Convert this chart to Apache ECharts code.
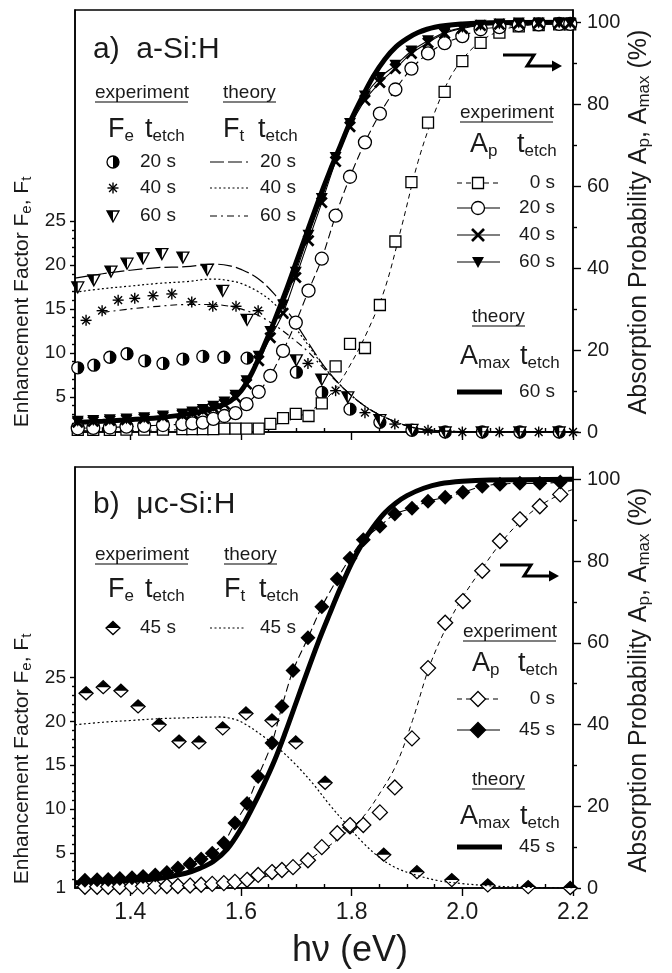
<!DOCTYPE html>
<html>
<head>
<meta charset="utf-8">
<title>Enhancement factor and absorption probability</title>
<script src="https://cdn.jsdelivr.net/npm/echarts@6.0.0/dist/echarts.min.js"></script>
<style>
  html, body { margin: 0; padding: 0; background: #fff; }
  #chart { width: 672px; height: 973px; }
</style>
</head>
<body>
<div id="chart"></div>
<script>
// tick positions
const xMajor = [1.4, 1.6, 1.8, 2.0, 2.2]
const xMinor = [1.35, 1.45, 1.5, 1.55, 1.65, 1.7, 1.75, 1.85, 1.9, 1.95, 2.05, 2.1, 2.15]
const fMajorA = [5, 10, 15, 20, 25]
const fMajorB = [1, 5, 10, 15, 20, 25]
const fMinor = [2, 3, 4, 6, 7, 8, 9, 11, 12, 13, 14, 16, 17, 18, 19, 21, 22, 23, 24]
const aMajor = [0, 20, 40, 60, 80, 100]
const aMinor = [10, 30, 50, 70, 90]

// a) a-Si:H  -- absorption probability Ap (%), shared photon energy grid (eV)
const eA = [1.305, 1.333, 1.363, 1.393, 1.425, 1.459, 1.494, 1.512, 1.531, 1.550, 1.570, 1.590, 1.610, 1.632, 1.653, 1.676, 1.699,
  1.722, 1.746, 1.771, 1.797, 1.824, 1.851, 1.879, 1.908, 1.938, 1.968, 2.000, 2.033, 2.067, 2.102, 2.138, 2.175, 2.195]
const apA0 = [0.5, 0.5, 0.5, 0.6, 0.6, 0.6, 0.7, 0.7, 0.7, 0.7, 0.8, 0.8, 0.8, 0.8, 2.0, 3.4, 4.4,
  3.9, 7.0, 16, 21.5, 20.5, 31, 46.5, 61, 75.5, 83, 90.5, 95, 97.5, 99, 99.3, 99.5, 99.5]
const apA20 = [0.9, 1.0, 1.1, 1.3, 1.5, 1.7, 1.9, 2.1, 2.3, 3.2, 3.9, 4.6, 6.8, 9.8, 13.7, 19.8, 26.7,
  34.5, 42.3, 52.8, 62.3, 70.7, 77.7, 83.6, 88.7, 92.4, 94.9, 96.6, 98.3, 98.8, 99.3, 99.5, 99.6, 99.6]
const apA40 = [2.4, 2.6, 2.8, 3.0, 3.3, 3.7, 4.2, 4.6, 5.2, 5.9, 6.8, 8.5, 11.7, 17.4, 23, 29, 37.7,
  46.7, 56, 66, 74.5, 81, 85.3, 88.7, 92.4, 95, 97.3, 98.5, 99.2, 99.5, 99.7, 99.8, 99.8, 99.8]
const apA60 = [2.6, 2.8, 3.0, 3.2, 3.5, 3.9, 4.4, 4.9, 5.5, 6.3, 7.3, 9.0, 12.5, 18.5, 24.5, 31, 39,
  48, 57, 67, 75.3, 82, 86.5, 89.5, 93, 95.5, 97.5, 98.7, 99.3, 99.6, 99.8, 99.8, 99.8, 99.8]
// guide through the 0 s squares
const fitA0x = [1.30, 1.60, 1.65, 1.70, 1.74, 1.77, 1.80, 1.83, 1.86, 1.89, 1.92, 1.95, 1.98, 2.01, 2.04, 2.07, 2.10, 2.15, 2.20]
const fitA0 = [0.3, 0.8, 1.5, 3.5, 6.5, 10.5, 17, 25, 35, 50, 66, 78, 87, 92.5, 96, 98, 99, 99.6, 99.8]
// theory Amax, 60 s
const thAx = [1.30, 1.35, 1.40, 1.45, 1.50, 1.55, 1.58, 1.60, 1.62, 1.64, 1.66, 1.68, 1.70, 1.72, 1.74, 1.76, 1.78,
  1.80, 1.82, 1.84, 1.86, 1.88, 1.90, 1.92, 1.95, 2.00, 2.05, 2.20]
const amaxA60 = [2.3, 2.6, 3.0, 3.5, 4.3, 5.8, 7.5, 10, 14.5, 20.5, 27, 34, 41.5, 49, 56.5, 63.5, 70,
  76.5, 82, 87, 91, 94, 96, 97.5, 98.8, 99.6, 99.9, 100]

// a) enhancement factor Fe (experiment)
const feA20x = [1.305, 1.334, 1.363, 1.394, 1.426, 1.459, 1.495, 1.531, 1.569, 1.611, 1.700, 1.746, 1.797, 1.851, 1.909, 1.969, 2.036, 2.104, 2.175]
const feA20 = [8.3, 8.6, 9.5, 9.9, 9.1, 8.8, 9.3, 9.6, 9.5, 9.4, 7.8, 5.5, 3.6, 2.1, 1.2, 1.0, 1.0, 1.0, 1.0]
const feA40x = [1.320, 1.349, 1.378, 1.408, 1.441, 1.475, 1.511, 1.549, 1.591, 1.631, 1.721, 1.771, 1.824, 1.878, 1.938, 2.000, 2.067, 2.138, 2.200]
const feA40 = [13.7, 14.8, 16.0, 16.2, 16.5, 16.7, 15.8, 15.3, 15.3, 14.8, 8.8, 5.7, 3.2, 1.9, 1.2, 1.0, 1.0, 1.0, 1.0]
const feA60x = [1.305, 1.334, 1.365, 1.394, 1.423, 1.457, 1.495, 1.539, 1.567, 1.611, 1.700, 1.746, 1.793, 1.851, 1.909, 1.969, 2.036, 2.104, 2.175]
const feA60 = [17.5, 18.3, 19.3, 20.2, 20.8, 21.3, 20.9, 19.5, 17.1, 13.8, 9.2, 7.0, 5.0, 2.4, 1.3, 1.0, 1.0, 1.0, 1.0]
// a) enhancement factor Ft (theory)
const ftAx = [1.30, 1.35, 1.40, 1.45, 1.50, 1.55, 1.58, 1.60, 1.63, 1.66, 1.69, 1.72, 1.75, 1.78, 1.81, 1.84, 1.87, 1.90, 1.93, 1.97, 2.05, 2.20]
const ftA20 = [18.5, 19.0, 19.4, 19.7, 19.8, 20.1, 19.9, 19.5, 18.5, 16.7, 14.2, 11.3, 8.5, 6.3, 4.6, 3.3, 2.4, 1.7, 1.3, 1.1, 1.0, 1.0]
const ftA40 = [16.9, 17.3, 17.6, 17.9, 18.1, 18.4, 18.2, 17.9, 17.0, 15.6, 13.5, 11.0, 8.4, 6.3, 4.6, 3.3, 2.4, 1.7, 1.3, 1.1, 1.0, 1.0]
const ftA60 = [null, 14.6, 15.0, 15.3, 15.5, 15.5, 15.3, 15.0, 14.3, 13.2, 11.8, 10.2, 8.2, 6.3, 4.6, 3.3, 2.4, 1.7, 1.3, 1.1, 1.0, 1.0]

// b) uc-Si:H  -- absorption probability Ap (%)
const eB = [1.318, 1.340, 1.360, 1.381, 1.403, 1.423, 1.445, 1.466, 1.486, 1.508, 1.528, 1.548, 1.569, 1.589, 1.611, 1.631, 1.656, 1.674,
  1.694, 1.721, 1.746, 1.774, 1.797, 1.821, 1.851, 1.878, 1.909, 1.938, 1.969, 2.001, 2.036, 2.068, 2.104, 2.140, 2.177]
const apB0 = [0.3, 0.3, 0.3, 0.3, 0.4, 0.4, 0.4, 0.5, 0.5, 0.6, 0.8, 1.0, 1.2, 1.5, 2.0, 3.2, 3.9, 4.4,
  5.1, 6.8, 10, 13.4, 15.4, 15.4, 18.5, 24.6, 36.6, 53.8, 64.9, 70.2, 77.6, 84.9, 90.2, 93.4, 96.3]
const apB45 = [1.9, 2.0, 2.1, 2.3, 2.5, 2.8, 3.2, 3.8, 4.9, 5.9, 7.1, 8.5, 11, 15.9, 20.7, 27.3, 35.5, 44.4,
  53.2, 61.2, 68.8, 75.6, 80.7, 85.2, 88.5, 91.5, 92.9, 94.6, 95.6, 96.8, 98.3, 98.8, 99, 99, 99.3]
const fitB0x = [1.30, 1.50, 1.60, 1.65, 1.70, 1.74, 1.78, 1.82, 1.85, 1.88, 1.91, 1.94, 1.97, 2.00, 2.04, 2.07, 2.10, 2.14, 2.18, 2.20]
const fitB0 = [0.3, 0.6, 1.5, 3, 5.3, 8.5, 12.5, 17.3, 23, 30, 41, 54, 63.5, 71, 79, 84.5, 89, 93.5, 96.5, 97.5]
const thBx = [1.30, 1.35, 1.40, 1.45, 1.50, 1.525, 1.55, 1.575, 1.60, 1.62, 1.64, 1.66, 1.68, 1.70, 1.72, 1.74, 1.76, 1.78,
  1.80, 1.82, 1.84, 1.86, 1.88, 1.90, 1.93, 1.96, 2.00, 2.05, 2.20]
const amaxB45 = [1.3, 1.5, 1.8, 2.3, 3.6, 4.8, 6.5, 9.5, 14.5, 19.5, 25, 31, 38, 45.5, 53, 60.3, 67, 73.5,
  79.5, 84.5, 88.5, 91.8, 94.2, 96, 97.8, 98.9, 99.5, 99.8, 100]
// b) enhancement factor
const feB45x = [1.320, 1.351, 1.383, 1.414, 1.452, 1.488, 1.524, 1.567, 1.609, 1.656, 1.699, 1.752, 1.797, 1.858, 1.918, 1.981, 2.046, 2.119, 2.195]
const feB45 = [23.2, 23.9, 23.5, 21.7, 19.6, 17.7, 17.6, 19.2, 20.9, 20.1, 17.6, 13.0, 7.9, 4.8, 2.8, 1.9, 1.3, 1.1, 1.0]
const ftBx = [1.30, 1.35, 1.40, 1.45, 1.50, 1.56, 1.59, 1.61, 1.64, 1.67, 1.70, 1.73, 1.76, 1.79, 1.82, 1.85, 1.88, 1.92, 1.96, 2.00, 2.05, 2.10, 2.15, 2.20]
const ftB45 = [19.6, 19.9, 20.1, 20.3, 20.4, 20.5, 20.2, 19.6, 18.3, 16.8, 15.0, 12.9, 10.5, 8.3, 6.2, 4.5, 3.3, 2.4, 1.8, 1.5, 1.25, 1.1, 1.05, 1.0]

const FONT = 'Liberation Sans, Arial, sans-serif'
const INK = '#1a1a1a'
const DASH_LONG = [14, 4]
const DOT = [2, 2.5]
const DASH_DOT = [7, 4, 2, 4]
const DASH = [5, 4]

const pts = (xs, ys) => xs.map((x, i) => [x, ys[i]])

// markers drawn with zrender shapes (used both in series and in the legends)
function marker(kind, x, y) {
  const edge = { stroke: '#000', lineWidth: 1.3 }
  if (kind === 'halfCircle') {
    return { type: 'group', children: [
      { type: 'circle', shape: { cx: x, cy: y, r: 6 }, style: Object.assign({ fill: '#fff' }, edge) },
      { type: 'sector', shape: { cx: x, cy: y, r0: 0, r: 6, startAngle: -Math.PI / 2, endAngle: Math.PI / 2, clockwise: true }, style: { fill: '#000' } }
    ] }
  }
  if (kind === 'halfTri') {
    return { type: 'group', children: [
      { type: 'polygon', shape: { points: [[x - 6, y - 5], [x + 6, y - 5], [x, y + 6]] }, style: Object.assign({ fill: '#fff' }, edge) },
      { type: 'polygon', shape: { points: [[x - 6, y - 5], [x, y - 5], [x, y + 6]] }, style: { fill: '#000' } }
    ] }
  }
  if (kind === 'halfDiamond') {
    return { type: 'group', children: [
      { type: 'polygon', shape: { points: [[x, y - 6.5], [x + 7, y], [x, y + 6.5], [x - 7, y]] }, style: Object.assign({ fill: '#fff' }, edge) },
      { type: 'polygon', shape: { points: [[x, y - 6.5], [x + 7, y], [x - 7, y]] }, style: { fill: '#000' } }
    ] }
  }
  if (kind === 'asterisk') {
    const r = 5.5, d = 3.9
    const seg = (x1, y1, x2, y2) => ({ type: 'line', shape: { x1, y1, x2, y2 }, style: { stroke: '#000', lineWidth: 1.4 } })
    return { type: 'group', children: [
      seg(x - r, y, x + r, y), seg(x, y - r, x, y + r), seg(x - d, y - d, x + d, y + d), seg(x - d, y + d, x + d, y - d)
    ] }
  }
  if (kind === 'cross') {
    const seg = (x1, y1, x2, y2) => ({ type: 'line', shape: { x1, y1, x2, y2 }, style: { stroke: '#000', lineWidth: 2.6 } })
    return { type: 'group', children: [seg(x - 6, y - 6, x + 6, y + 6), seg(x - 6, y + 6, x + 6, y - 6)] }
  }
  if (kind === 'triDown') {
    return { type: 'polygon', shape: { points: [[x - 6, y - 5], [x + 6, y - 5], [x, y + 6]] }, style: { fill: '#000' } }
  }
  if (kind === 'square') {
    return { type: 'rect', shape: { x: x - 5.5, y: y - 5.5, width: 11, height: 11 }, style: Object.assign({ fill: '#fff' }, edge) }
  }
  if (kind === 'circle') {
    return { type: 'circle', shape: { cx: x, cy: y, r: 6.5 }, style: Object.assign({ fill: '#fff' }, edge) }
  }
  if (kind === 'diamondOpen' || kind === 'diamondFilled') {
    return { type: 'polygon', shape: { points: [[x, y - 7.5], [x + 7.5, y], [x, y + 7.5], [x - 7.5, y]] },
      style: Object.assign({ fill: kind === 'diamondOpen' ? '#fff' : '#000' }, edge) }
  }
}

function markerSeries(kind, xi, yi, xs, ys) {
  return {
    type: 'custom', xAxisIndex: xi, yAxisIndex: yi, data: pts(xs, ys), encode: { x: 0, y: 1 },
    renderItem: (params, api) => {
      const p = api.coord([api.value(0), api.value(1)])
      return marker(kind, p[0], p[1])
    }
  }
}

function curve(xi, yi, xs, ys, width, dash) {
  return {
    type: 'line', xAxisIndex: xi, yAxisIndex: yi, data: pts(xs, ys), symbol: 'none', smooth: 0.35,
    lineStyle: { color: '#000', width, type: dash || 'solid' }
  }
}

const crossPath = 'path://M0,1.6L1.6,0L5,3.4L8.4,0L10,1.6L6.6,5L10,8.4L8.4,10L5,6.6L1.6,10L0,8.4L3.4,5Z'
const triPath = 'path://M0,0L10,0L5,9Z'

function pointLine(xi, yi, xs, ys, symbol, size, fill, dash, smooth) {
  return {
    type: 'line', xAxisIndex: xi, yAxisIndex: yi, data: pts(xs, ys), symbol, symbolSize: size,
    showSymbol: true, showAllSymbol: true, smooth: smooth ? 0.3 : false,
    itemStyle: { color: fill, borderColor: '#000', borderWidth: fill === '#fff' ? 1.3 : 0 },
    lineStyle: dash === null ? { width: 0, opacity: 0 } : { color: '#000', width: 1.1, type: dash || 'solid' }
  }
}

// ---- axes ----
const tickStyle = { color: '#000', width: 1.4 }
function xAxes(gridIndex, labels) {
  return [{
    type: 'value', gridIndex, min: 1.3, max: 2.2,
    axisLine: { lineStyle: { color: '#000', width: 1.5 } },
    axisTick: { length: 8, customValues: xMajor, lineStyle: tickStyle },
    axisLabel: { show: labels, customValues: xMajor, formatter: v => v.toFixed(1), fontSize: 23, color: INK, fontFamily: FONT, margin: 13 },
    splitLine: { show: false }
  }, {
    type: 'value', gridIndex, min: 1.3, max: 2.2,
    axisLine: { show: false },
    axisTick: { length: 4, customValues: xMinor, lineStyle: tickStyle },
    axisLabel: { show: false }, splitLine: { show: false }
  }]
}
function yAxes(gridIndex, fLabels) {
  return [{
    type: 'value', gridIndex, min: 1, max: 49, position: 'left',
    axisLine: { show: true, lineStyle: { color: '#000', width: 1.5 } },
    axisTick: { show: true, length: 5, customValues: fMajorA, lineStyle: tickStyle },
    axisLabel: { customValues: fLabels, fontSize: 19, color: INK, fontFamily: FONT, margin: 9 },
    splitLine: { show: false }
  }, {
    type: 'value', gridIndex, min: 1, max: 49, position: 'left',
    axisLine: { show: false },
    axisTick: { show: true, length: 3, customValues: fMinor, lineStyle: tickStyle },
    axisLabel: { show: false }, splitLine: { show: false }
  }, {
    type: 'value', gridIndex, min: 0, max: 103, position: 'right',
    axisLine: { show: true, lineStyle: { color: '#000', width: 1.5 } },
    axisTick: { show: true, length: 8, customValues: aMajor, lineStyle: tickStyle },
    axisLabel: { customValues: aMajor, fontSize: 20, color: INK, fontFamily: FONT, margin: 14 },
    splitLine: { show: false }
  }, {
    type: 'value', gridIndex, min: 0, max: 103, position: 'right',
    axisLine: { show: false },
    axisTick: { show: true, length: 4, customValues: aMinor, lineStyle: tickStyle },
    axisLabel: { show: false }, splitLine: { show: false }
  }]
}

// ---- legend / annotation graphics ----
function txt(x, y, text, size, align) {
  return { type: 'text', x, y, style: { text, font: size + 'px ' + FONT, fill: INK,
    textAlign: align || 'left', align: align || 'left', textVerticalAlign: 'middle', verticalAlign: 'middle' } }
}
function richStyle(main, sub) {
  return {
    m: { fontSize: main, fontFamily: FONT, fill: INK, color: INK },
    s: { fontSize: sub, fontFamily: FONT, fill: INK, color: INK, padding: [Math.round(main * 0.45), 0, 0, 0] }
  }
}
function sub(x, y, main, s, size, subSize) {
  return { type: 'text', x, y, style: { text: '{m|' + main + '}{s|' + s + '}', rich: richStyle(size, subSize),
    textAlign: 'left', align: 'left', textVerticalAlign: 'middle', verticalAlign: 'middle' } }
}
function seg(x1, y1, x2, y2, width, dash) {
  return { type: 'line', shape: { x1, y1, x2, y2 }, style: { stroke: '#000', lineWidth: width, lineDash: dash || null } }
}
function underlined(x, y, text) {
  const w = { experiment: 93, theory: 53 }[text]
  return [txt(x, y, text, 19), seg(x, y + 9, x + w, y + 9, 1.2)]
}
function arrow(x, y) {
  return [
    { type: 'polyline', shape: { points: [[x, y], [x + 31, y], [x + 24, y + 11], [x + 52, y + 11]] }, style: { stroke: '#000', lineWidth: 3, fill: null } },
    { type: 'polygon', shape: { points: [[x + 49, y + 5.5], [x + 59, y + 11], [x + 49, y + 16.5]] }, style: { fill: '#000' } }
  ]
}
function axisTitle(x, y, text, main, subSize) {
  return { type: 'text', x, y, rotation: Math.PI / 2, style: { text, rich: richStyle(main, subSize),
    textAlign: 'center', align: 'center', textVerticalAlign: 'middle', verticalAlign: 'middle' } }
}

const leftTitle = '{m|Enhancement Factor F}{s|e}{m|, F}{s|t}'
const rightTitle = '{m|Absorption Probability A}{s|p}{m|, A}{s|max}{m| (%)}'

const graphics = [].concat(
  // panel a) left legend
  txt(93, 50, 'a)  a-Si:H', 30),
  underlined(95, 93, 'experiment'), underlined(223, 93, 'theory'),
  sub(108, 130, 'F', 'e', 27, 17), sub(145, 130, 't', 'etch', 27, 17),
  sub(223, 130, 'F', 't', 27, 17), sub(258, 130, 't', 'etch', 27, 17),
  marker('halfCircle', 113, 162), txt(140, 162, '20 s', 19),
  marker('asterisk', 113, 188), txt(140, 188, '40 s', 19),
  marker('halfTri', 113, 216), txt(140, 216, '60 s', 19),
  seg(210, 162, 248, 162, 1.2, DASH_LONG), txt(260, 162, '20 s', 19),
  seg(210, 188, 248, 188, 1.2, DOT), txt(260, 188, '40 s', 19),
  seg(210, 216, 248, 216, 1.2, DASH_DOT), txt(260, 216, '60 s', 19),
  // panel a) right legend
  arrow(503, 55),
  underlined(460, 113, 'experiment'),
  sub(470, 145, 'A', 'p', 27, 17), sub(517, 145, 't', 'etch', 27, 17),
  seg(457, 183, 500, 183, 1.1, DASH), marker('square', 478, 183), txt(555, 183, '0 s', 19, 'right'),
  seg(457, 208, 500, 208, 1.1), marker('circle', 478, 208), txt(555, 208, '20 s', 19, 'right'),
  seg(457, 235, 500, 235, 1.1), marker('cross', 478, 235), txt(555, 235, '40 s', 19, 'right'),
  seg(457, 262, 500, 262, 1.1), marker('triDown', 478, 262), txt(555, 262, '60 s', 19, 'right'),
  underlined(472, 317, 'theory'),
  sub(460, 357, 'A', 'max', 27, 17), sub(520, 357, 't', 'etch', 27, 17),
  seg(457, 392, 502, 392, 5), txt(555, 392, '60 s', 19, 'right'),
  // panel b) left legend
  txt(93, 505, 'b)  μc-Si:H', 30),
  underlined(95, 555, 'experiment'), underlined(224, 555, 'theory'),
  sub(108, 590, 'F', 'e', 27, 17), sub(145, 590, 't', 'etch', 27, 17),
  sub(224, 590, 'F', 't', 27, 17), sub(259, 590, 't', 'etch', 27, 17),
  marker('halfDiamond', 113, 628), txt(140, 628, '45 s', 19),
  seg(210, 628, 246, 628, 1.2, DOT), txt(260, 628, '45 s', 19),
  // panel b) right legend
  arrow(500, 565),
  underlined(463, 632, 'experiment'),
  sub(472, 664, 'A', 'p', 27, 17), sub(518, 664, 't', 'etch', 27, 17),
  seg(457, 699, 500, 699, 1.1, DASH), marker('diamondOpen', 478, 699), txt(555, 699, '0 s', 19, 'right'),
  seg(457, 730, 500, 730, 1.1), marker('diamondFilled', 478, 730), txt(555, 730, '45 s', 19, 'right'),
  underlined(472, 780, 'theory'),
  sub(460, 817, 'A', 'max', 27, 17), sub(520, 817, 't', 'etch', 27, 17),
  seg(457, 847, 502, 847, 5), txt(555, 847, '45 s', 19, 'right'),
  // axis titles
  axisTitle(22, 302, leftTitle, 21, 15), axisTitle(22, 759, leftTitle, 21, 15),
  axisTitle(639, 222, rightTitle, 25, 17), axisTitle(639, 680, rightTitle, 25, 17),
  txt(350, 951, 'hν (eV)', 36, 'center')
)

// axis indices: x 0/1 top, 2/3 bottom; y 0..3 top (F, F minor, A, A minor), 4..7 bottom
const option = {
  animation: false,
  backgroundColor: '#fff',
  grid: [
    { left: 75, top: 10, width: 498, height: 422, show: true, borderColor: '#000', borderWidth: 1.5 },
    { left: 75, top: 467, width: 498, height: 421, show: true, borderColor: '#000', borderWidth: 1.5 }
  ],
  xAxis: [].concat(xAxes(0, false), xAxes(1, true)),
  yAxis: [].concat(yAxes(0, fMajorA), yAxes(1, fMajorB)),
  series: [
    // a) theory Ft
    curve(0, 0, ftAx, ftA20, 1.2, DASH_LONG),
    curve(0, 0, ftAx, ftA40, 1.2, DOT),
    curve(0, 0, ftAx, ftA60, 1.2, DASH_DOT),
    // a) Ap
    curve(0, 2, fitA0x, fitA0, 1, DASH),
    pointLine(0, 2, eA, apA0, 'rect', 11, '#fff', null),
    pointLine(0, 2, eA, apA20, 'circle', 13, '#fff', [8, 4], true),
    curve(0, 2, thAx, amaxA60, 5),
    pointLine(0, 2, eA, apA40, crossPath, 12, '#000', 'solid', true),
    pointLine(0, 2, eA, apA60, triPath, [12, 11], '#000', 'solid', true),
    // a) Fe
    markerSeries('halfCircle', 0, 0, feA20x, feA20),
    markerSeries('asterisk', 0, 0, feA40x, feA40),
    markerSeries('halfTri', 0, 0, feA60x, feA60),
    // b) theory Ft
    curve(2, 4, ftBx, ftB45, 1.2, DOT),
    // b) Ap
    curve(2, 6, fitB0x, fitB0, 1, DASH),
    pointLine(2, 6, eB, apB0, 'diamond', 15, '#fff', null),
    curve(2, 6, thBx, amaxB45, 5),
    pointLine(2, 6, eB, apB45, 'diamond', 15, '#000', [8, 4], true),
    // b) Fe
    markerSeries('halfDiamond', 2, 4, feB45x, feB45)
  ],
  graphic: graphics
}

const chart = echarts.init(document.getElementById('chart'), null, { renderer: 'canvas' })
chart.setOption(option)
window.addEventListener('resize', () => chart.resize())
</script>
</body>
</html>
